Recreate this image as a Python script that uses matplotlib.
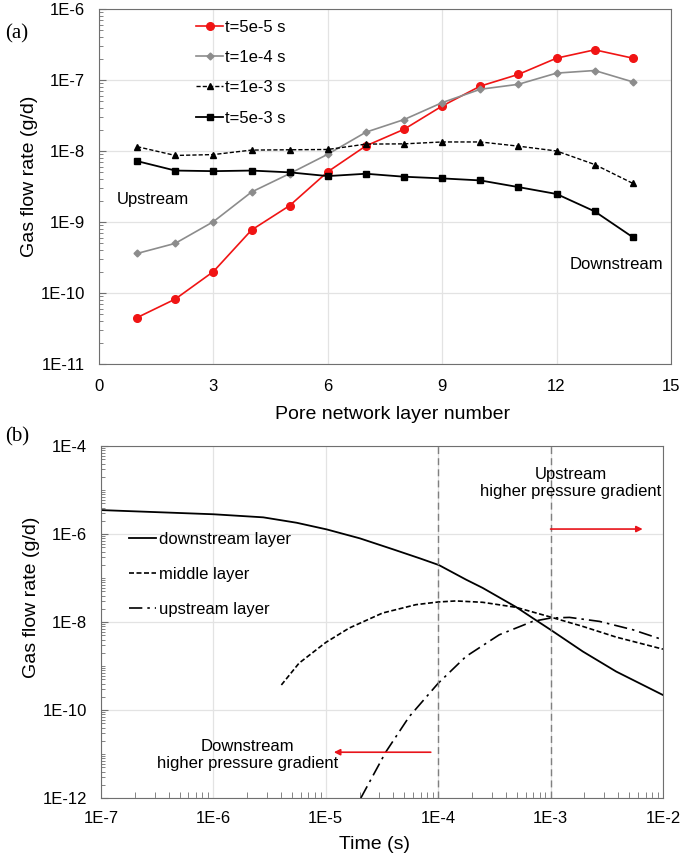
import numpy as np
import matplotlib
matplotlib.use('Agg')
import matplotlib.pyplot as plt
from matplotlib.ticker import FixedLocator, FuncFormatter, LogLocator, NullFormatter

plt.rcParams['font.family'] = ['Liberation Sans', 'DejaVu Sans']

# ---- panel (a) data: gas flow rate vs pore network layer ----
layers = np.arange(1, 15)
q_5e5 = [4.5e-11, 8.2e-11, 2.0e-10, 7.7e-10, 1.7e-9, 5.1e-9, 1.18e-8,
         2.02e-8, 4.3e-8, 8.2e-8, 1.2e-7, 2.03e-7, 2.66e-7, 2.03e-7]
q_1e4 = [3.6e-10, 5.0e-10, 1.01e-9, 2.64e-9, 4.8e-9, 9.0e-9, 1.84e-8,
         2.77e-8, 4.8e-8, 7.4e-8, 8.7e-8, 1.25e-7, 1.36e-7, 9.4e-8]
q_1e3 = [1.15e-8, 8.65e-9, 8.9e-9, 1.03e-8, 1.04e-8, 1.05e-8, 1.25e-8,
         1.26e-8, 1.34e-8, 1.34e-8, 1.17e-8, 1.0e-8, 6.45e-9, 3.5e-9]
q_5e3 = [7.2e-9, 5.3e-9, 5.2e-9, 5.3e-9, 5.0e-9, 4.43e-9, 4.78e-9,
         4.34e-9, 4.11e-9, 3.85e-9, 3.1e-9, 2.48e-9, 1.41e-9, 6.1e-10]

# ---- panel (b) data: gas flow rate vs time (log10 values) ----
t_down = [-7.0, -6.0, -5.556, -5.259, -4.992, -4.696, -4.40, -4.162, -3.993,
          -3.753, -3.604, -3.307, -3.159, -3.0, -2.713, -2.416, -2.0]
q_down = [-5.455, -5.55, -5.62, -5.743, -5.894, -6.098, -6.348, -6.553, -6.705,
          -7.034, -7.224, -7.658, -7.909, -8.175, -8.669, -9.125, -9.658]
t_mid = [-5.395, -5.238, -5.0, -4.792, -4.495, -4.198, -4.0, -3.842, -3.604,
         -3.307, -3.0, -2.713, -2.416, -2.0]
q_mid = [-9.43, -8.935, -8.464, -8.137, -7.795, -7.605, -7.544, -7.52, -7.551,
         -7.665, -7.886, -8.099, -8.342, -8.616]
t_up = [-4.688, -4.465, -4.258, -4.0, -3.753, -3.456, -3.159, -3.0, -2.832,
        -2.565, -2.268, -2.0]
q_up = [-12.0, -10.95, -10.152, -9.392, -8.783, -8.289, -7.985, -7.909, -7.894,
        -7.985, -8.175, -8.403]


def sci_fmt(v, pos):
    return '1E%d' % int(round(np.log10(v)))


frame_c = '#6f6f6f'
grid_c = '#e3e3e3'

fig = plt.figure(figsize=(6.85, 8.57), dpi=100)

# ================= (a) =================
ax1 = fig.add_axes([0.1445, 0.5753, 0.835, 0.4142])
ax1.set_yscale('log')
ax1.plot(layers, q_5e5, '-o', color='#f01414', lw=1.2, ms=5.5, label='t=5e-5 s')
ax1.plot(layers, q_1e4, '-D', color='#8c8c8c', lw=1.2, ms=3.5, label='t=1e-4 s')
ax1.plot(layers, q_1e3, '--^', color='black', lw=1.0, ms=4.5, dashes=(3, 1.5), label='t=1e-3 s')
ax1.plot(layers, q_5e3, '-s', color='black', lw=1.3, ms=4.5, label='t=5e-3 s')
ax1.set_xlim(0, 15)
ax1.set_ylim(1e-11, 1e-6)
ax1.set_xticks([0, 3, 6, 9, 12, 15])
ax1.yaxis.set_major_locator(FixedLocator([1e-11, 1e-10, 1e-9, 1e-8, 1e-7, 1e-6]))
ax1.yaxis.set_major_formatter(FuncFormatter(sci_fmt))
ax1.yaxis.set_minor_locator(LogLocator(base=10, subs=np.arange(2, 10), numticks=100))
ax1.yaxis.set_minor_formatter(NullFormatter())
ax1.grid(True, which='major', color=grid_c, lw=0.9)
ax1.set_axisbelow(True)
ax1.tick_params(axis='x', length=0, pad=11, labelsize=12)
ax1.tick_params(axis='y', which='major', direction='in', length=5, pad=10, labelsize=12, color=frame_c)
ax1.tick_params(axis='y', which='minor', direction='in', length=3, color=frame_c)
for s in ax1.spines.values():
    s.set_color(frame_c)
ax1.set_xlabel('Pore network layer number', fontsize=14)
ax1.set_ylabel('Gas flow rate (g/d)', fontsize=14)
ax1.xaxis.set_label_coords(0.514, -0.119)
ax1.yaxis.set_label_coords(-0.107, 0.53)
ax1.legend(loc='upper left', bbox_to_anchor=(0.17, 0.97), frameon=False, fontsize=12,
           handlelength=1.6, handletextpad=0.15, labelspacing=0.92, borderpad=0, borderaxespad=0)
ax1.text(1.42, 2.04e-9, 'Upstream', fontsize=12, ha='center', va='center')
ax1.text(13.56, 2.48e-10, 'Downstream', fontsize=12, ha='center', va='center')
fig.text(0.025, 0.961, '(a)', fontsize=15, family='Liberation Serif', ha='center', va='center')

# ================= (b) =================
ax2 = fig.add_axes([0.1474, 0.0688, 0.8204, 0.4107])
ax2.set_xscale('log')
ax2.set_yscale('log')
ax2.plot(10 ** np.array(t_down), 10 ** np.array(q_down), '-', color='black', lw=1.3, label='downstream layer')
ax2.plot(10 ** np.array(t_mid), 10 ** np.array(q_mid), '--', color='black', lw=1.2, dashes=(3, 1.5), label='middle layer')
ax2.plot(10 ** np.array(t_up), 10 ** np.array(q_up), '-.', color='black', lw=1.2, dashes=(8, 3, 1.5, 3), label='upstream layer')
ax2.axvline(1e-4, color='#808080', lw=1.0, ls=(0, (5, 3)))
ax2.axvline(1e-3, color='#808080', lw=1.0, ls=(0, (5, 3)))
ax2.set_xlim(1e-7, 1e-2)
ax2.set_ylim(1e-12, 1e-4)
ax2.xaxis.set_major_locator(FixedLocator([1e-7, 1e-6, 1e-5, 1e-4, 1e-3, 1e-2]))
ax2.yaxis.set_major_locator(FixedLocator([1e-12, 1e-10, 1e-8, 1e-6, 1e-4]))
ax2.xaxis.set_major_formatter(FuncFormatter(sci_fmt))
ax2.yaxis.set_major_formatter(FuncFormatter(sci_fmt))
ax2.xaxis.set_minor_locator(LogLocator(base=10, subs=np.arange(2, 10), numticks=100))
ax2.yaxis.set_minor_locator(LogLocator(base=10, subs=np.arange(1, 10), numticks=100))
ax2.xaxis.set_minor_formatter(NullFormatter())
ax2.yaxis.set_minor_formatter(NullFormatter())
ax2.grid(True, which='major', color=grid_c, lw=0.9)
ax2.set_axisbelow(True)
ax2.tick_params(axis='x', which='major', length=0, pad=9, labelsize=12)
ax2.tick_params(axis='x', which='minor', direction='in', length=4, color=frame_c)
ax2.tick_params(axis='y', which='major', direction='in', length=5, pad=10, labelsize=12, color=frame_c)
ax2.tick_params(axis='y', which='minor', direction='in', length=3, color=frame_c)
for s in ax2.spines.values():
    s.set_color(frame_c)
ax2.set_xlabel('Time (s)', fontsize=14)
ax2.set_ylabel('Gas flow rate (g/d)', fontsize=14)
ax2.xaxis.set_label_coords(0.4875, -0.109)
ax2.yaxis.set_label_coords(-0.1085, 0.57)
ax2.legend(loc='upper left', bbox_to_anchor=(0.05, 0.755), frameon=False, fontsize=12,
           handlelength=1.6, handletextpad=0.18, labelspacing=1.18, borderpad=0, borderaxespad=0)
ax2.text(1.52e-3, 1.45e-5, 'Upstream\nhigher pressure gradient', fontsize=12, ha='center', va='center')
ax2.text(2.01e-6, 9.5e-12, 'Downstream\nhigher pressure gradient', fontsize=12, ha='center', va='center')
ax2.annotate('', xy=(6.6e-3, 1.3e-6), xytext=(1e-3, 1.3e-6),
             arrowprops=dict(arrowstyle='-|>', color='#e8141b', lw=1.2, mutation_scale=9, shrinkA=0, shrinkB=0))
ax2.annotate('', xy=(1.18e-5, 1.1e-11), xytext=(8.6e-5, 1.1e-11),
             arrowprops=dict(arrowstyle='-|>', color='#e8141b', lw=1.2, mutation_scale=9, shrinkA=0, shrinkB=0))
fig.text(0.025, 0.49, '(b)', fontsize=15, family='Liberation Serif', ha='center', va='center')

fig.savefig('out.png', dpi=100)
